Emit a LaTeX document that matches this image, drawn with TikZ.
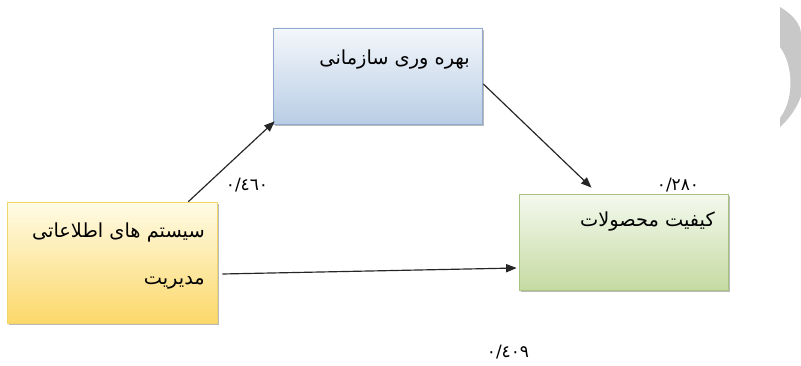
\documentclass[tikz,border=0pt]{standalone}
\usepackage{fontspec}
\TeXXeTstate=1
\newfontfamily\arabicfont[Script=Arabic]{DejaVu Sans}
\usetikzlibrary{arrows.meta,shadows,calc}
\definecolor{bluetop}{HTML}{F4F7FB}
\definecolor{bluebot}{HTML}{B9CDE5}
\definecolor{blueline}{HTML}{8FAACC}
\definecolor{yeltop}{HTML}{FFFBE6}
\definecolor{yelbot}{HTML}{FCD86A}
\definecolor{yelline}{HTML}{F2D56A}
\definecolor{grntop}{HTML}{F4F9EE}
\definecolor{grnbot}{HTML}{C5DAA2}
\definecolor{grnline}{HTML}{A8C383}
\definecolor{crescent}{HTML}{C8C8C8}
\tikzset{
  boxbase/.style={draw, line width=0.6pt, inner sep=0pt,
    drop shadow={shadow xshift=1.8pt, shadow yshift=-1.8pt, fill=black!45, opacity=0.6}},
  bluebox/.style={boxbase, draw=blueline, top color=bluetop, bottom color=bluebot,
    minimum width=209*0.03cm, minimum height=96*0.03cm},
  yelbox/.style={boxbase, draw=yelline, top color=yeltop, bottom color=yelbot,
    minimum width=210*0.03cm, minimum height=121*0.03cm},
  grnbox/.style={boxbase, draw=grnline, top color=grntop, bottom color=grnbot,
    minimum width=209*0.03cm, minimum height=96*0.03cm},
  boxtext/.style={anchor=east, inner sep=0pt, font=\arabicfont\fontsize{16.5}{19}\selectfont},
  coef/.style={inner sep=0pt, font=\arabicfont\fontsize{14.5}{17}\selectfont},
  link/.style={draw=black!85, line width=1pt, -{Triangle[length=9pt,width=7pt]}}
}
\begin{document}
\begin{tikzpicture}[x=0.03cm,y=-0.03cm]
\useasboundingbox (0,0) rectangle (801,366);
\fill[white] (0,0) rectangle (801,366);
% page artifact at the right edge
\fill[crescent] (780,7) .. controls (792,14) and (801,24) .. (801,34)
  -- (801,96) .. controls (797,108) and (789,119) .. (780,127)
  -- (780,118) .. controls (794,100) and (794,66) .. (780,47) -- cycle;
% boxes
\node[bluebox] (blue) at (377.5,76) {};
\node[yelbox] (yel) at (112,262.5) {};
\node[grnbox] (grn) at (623.5,242) {};
% box texts
\node[boxtext] (tb) at (470,60) {\beginR بهره وری سازمانی\endR};
\node[boxtext] (ty1) at (205,232) {\beginR سیستم های اطلاعاتی\endR};
\node[boxtext] (ty2) at (205,283) {\beginR مدیریت\endR};
\node[boxtext] (tg) at (715,222) {\beginR کیفیت محصولات\endR};
% connectors
\draw[link] ($(yel.north east)+(-29,0)$) -- ($(blue.south west)+(2,-3)$);
\draw[link] ($(blue.east)+(1,8)$) -- ($(grn.north)+(-32,-6)$);
\draw[link] ($(yel.east)+(5,11.5)$) -- ($(grn.west)+(-2,26)$);
% coefficients
\node[coef] (c1) at (247,185) {٠/٤٦٠};
\node[coef] (c2) at (678,185) {٠/٢٨٠};
\node[coef] (c3) at (508,352) {٠/٤٠٩};
\end{tikzpicture}
\end{document}
